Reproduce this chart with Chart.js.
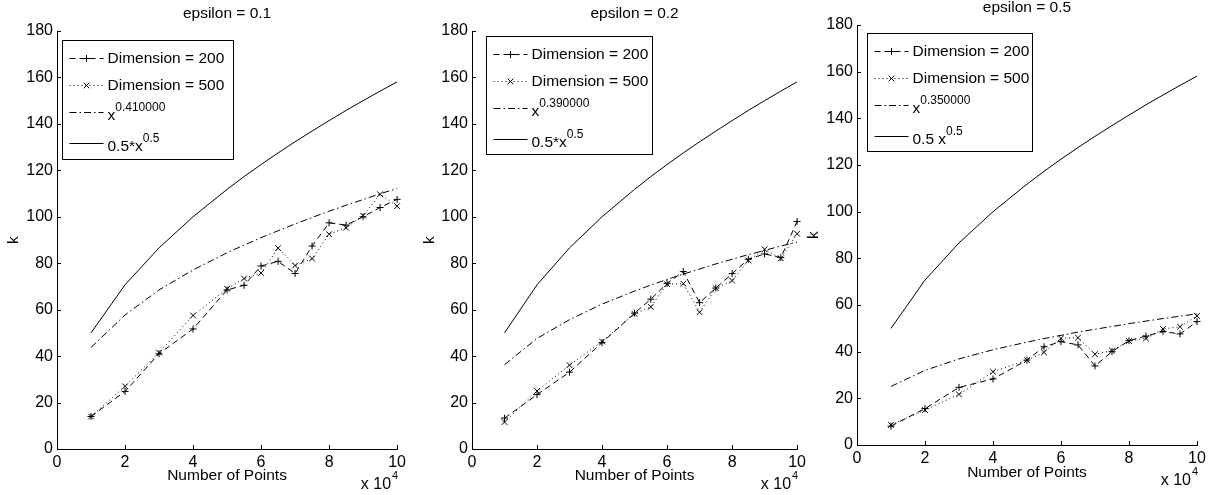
<!DOCTYPE html>
<html lang="en">
<head>
    <meta charset="UTF-8">
    <title>k vs Number of Points</title>
    <style>
        body {
            margin: 0;
            background-color: #ffffff;
            width: 1210px;
            height: 495px;
            overflow: hidden;
            position: relative;
            font-family: "Liberation Sans", Arial, sans-serif;
        }

        .panel {
            position: absolute;
            top: 0;
            width: 410px;
            height: 495px;
        }
    </style>
</head>
<body>

    <div class="panel" style="left: 0px;"><canvas id="chart1" width="410" height="495"></canvas></div>
    <div class="panel" style="left: 400px;"><canvas id="chart2" width="410" height="495"></canvas></div>
    <div class="panel" style="left: 800px;"><canvas id="chart3" width="410" height="495"></canvas></div>

    <script src="https://cdn.jsdelivr.net/npm/chart.js"></script>
    <script>
        // x values are in units of 10^4 points
        var xPoints = [1, 2, 3, 4, 5, 5.5, 6, 6.5, 7, 7.5, 8, 8.5, 9, 9.5, 10];

        var eps01Dim200 = [14, 24.8, 41, 51.7, 68.5, 70.5, 78.8, 80.8, 75.6, 87.4, 97.4, 96.4, 100, 104, 107.5];
        var eps01Dim500 = [14, 27, 41.5, 57.5, 69, 73.4, 75.8, 86.5, 79, 82, 92.5, 95.3, 100.5, 109.7, 104.6];
        var eps01Fit = [43.7, 57.7, 68.5, 77.1, 84.5, 87.8, 91.0, 94.0, 96.9, 99.7, 102.4, 105.0, 107.4, 109.9, 112.2];

        var eps02Dim200 = [13.3, 23.4, 33.1, 45.8, 58.5, 64.5, 71.3, 76.4, 63, 69.3, 75.5, 81.7, 84, 82.4, 98];
        var eps02Dim500 = [11.6, 25, 36.1, 46.3, 58.2, 61.2, 71, 71.2, 58.9, 69.2, 72.5, 81.2, 86, 82.1, 92.7];
        var eps02Fit = [36.3, 47.6, 55.7, 62.4, 68.0, 70.6, 73.0, 75.3, 77.5, 79.7, 81.7, 83.7, 85.5, 87.4, 89.1];

        var eps05Dim200 = [8.1, 15.6, 24.7, 28.3, 36.4, 42.1, 44.3, 42.9, 33.9, 40, 44.7, 46.7, 48.6, 47.6, 52.9];
        var eps05Dim500 = [8.6, 15, 21.7, 31.4, 36.4, 39.7, 45.7, 46, 38.9, 40.4, 44.6, 45.7, 49.7, 50.7, 55.3];
        var eps05Fit = [25.1, 32.0, 36.9, 40.8, 44.1, 45.6, 47.0, 48.4, 49.6, 50.8, 52.0, 53.1, 54.2, 55.2, 56.2];

        var refCurve = [50, 70.7, 86.6, 100, 111.8, 117.3, 122.5, 127.5, 132.3, 136.9, 141.4, 145.8, 150, 154.1, 158.1];

        var titles = ['epsilon = 0.1', 'epsilon = 0.2', 'epsilon = 0.5'];
        var fitExponents = ['0.410000', '0.390000', '0.350000'];
        var refLabels = ['0.5*x', '0.5*x', '0.5 x'];
        var refExponent = '0.5';
        var dimLabels = ['Dimension = 200', 'Dimension = 500'];

        var FONT = '"Liberation Sans", Arial, sans-serif';

        // layout of each panel (pixels inside its canvas)
        var panels = [
            { id: 'chart1', yWidth: 57, padTop: 31, xHeight: 46, padRight: 10, kPad: 4, xTitlePad: 10,
              legend: { dx: 5, dy: 9, w: 171, h: 119 } },
            { id: 'chart2', yWidth: 72, padTop: 31, xHeight: 46, padRight: 10, kPad: 20, xTitlePad: 10,
              legend: { dx: 14, dy: 5, w: 166, h: 118 } },
            { id: 'chart3', yWidth: 57, padTop: 25, xHeight: 50, padRight: 13, kPad: 4, xTitlePad: 13,
              legend: { dx: 10, dy: 8, w: 165, h: 118 } }
        ];

        function toXY(values) {
            return values.map(function (v, i) { return { x: xPoints[i], y: v }; });
        }

        function drawMarker(ctx, style, x, y, r) {
            ctx.beginPath();
            if (style === 'cross') {
                ctx.moveTo(x - r, y); ctx.lineTo(x + r, y);
                ctx.moveTo(x, y - r); ctx.lineTo(x, y + r);
            } else if (style === 'crossRot') {
                var d = r * 0.707;
                ctx.moveTo(x - d, y - d); ctx.lineTo(x + d, y + d);
                ctx.moveTo(x - d, y + d); ctx.lineTo(x + d, y - d);
            }
            ctx.stroke();
        }

        // title, inward ticks, legend box and the x 10^4 multiplier
        var matlabDecor = {
            id: 'matlabDecor',
            afterDraw: function (chart, args, opts) {
                var ctx = chart.ctx;
                var a = chart.chartArea;
                var xs = chart.scales.x, ys = chart.scales.y;
                ctx.save();
                ctx.strokeStyle = '#000';
                ctx.fillStyle = '#000';
                ctx.lineWidth = 1;

                // inward tick marks
                ctx.beginPath();
                xs.ticks.forEach(function (t) {
                    var px = Math.round(xs.getPixelForValue(t.value)) + 0.5;
                    ctx.moveTo(px, a.bottom);
                    ctx.lineTo(px, a.bottom - 4);
                });
                ys.ticks.forEach(function (t) {
                    var py = Math.round(ys.getPixelForValue(t.value)) + 0.5;
                    ctx.moveTo(a.left, py);
                    ctx.lineTo(a.left + 4, py);
                });
                ctx.stroke();

                // title
                ctx.font = '15.5px ' + FONT;
                ctx.textAlign = 'center';
                ctx.textBaseline = 'middle';
                ctx.fillText(opts.title, (a.left + a.right) / 2, a.top - 17);

                // x 10^4
                ctx.textAlign = 'right';
                ctx.font = '16px ' + FONT;
                ctx.fillText('x 10', a.right - 6, a.bottom + 36);
                ctx.textAlign = 'left';
                ctx.font = '11px ' + FONT;
                ctx.fillText('4', a.right - 5, a.bottom + 27);

                // legend
                var L = opts.legend;
                var bx = Math.round(a.left + L.dx) + 0.5;
                var by = Math.round(a.top + L.dy) + 0.5;
                ctx.fillStyle = '#fff';
                ctx.fillRect(bx, by, L.w, L.h);
                ctx.strokeRect(bx, by, L.w, L.h);
                ctx.fillStyle = '#000';

                var rowY = [17, 44, 71.5, 102];
                chart.data.datasets.forEach(function (ds, i) {
                    var y = Math.round(by + rowY[i]) + 0.5;
                    ctx.save();
                    ctx.lineWidth = ds.borderWidth;
                    ctx.setLineDash(ds.borderDash || []);
                    ctx.beginPath();
                    ctx.moveTo(bx + 7, y);
                    ctx.lineTo(bx + 41, y);
                    ctx.stroke();
                    ctx.setLineDash([]);
                    if (ds.pointRadius > 0) {
                        drawMarker(ctx, ds.pointStyle, bx + 24, y, ds.pointRadius);
                    }
                    ctx.restore();

                    var item = opts.items[i];
                    ctx.textAlign = 'left';
                    ctx.textBaseline = 'middle';
                    ctx.font = '15.5px ' + FONT;
                    if (item.sup) {
                        ctx.fillText(item.text, bx + 45, y + 3);
                        var w = ctx.measureText(item.text).width;
                        ctx.font = '12px ' + FONT;
                        ctx.fillText(item.sup, bx + 45 + w, y - 5);
                    } else {
                        ctx.fillText(item.text, bx + 45, y);
                    }
                });
                ctx.restore();
            }
        };

        function createChart(p, title, dim200, dim500, fit, fitExp, refLabel) {
            var ctx = document.getElementById(p.id).getContext('2d');
            return new Chart(ctx, {
                type: 'line',
                data: {
                    datasets: [{
                        label: dimLabels[0],
                        data: toXY(dim200),
                        borderColor: '#000',
                        borderWidth: 1,
                        borderDash: [6, 4],
                        pointStyle: 'cross',
                        pointRadius: 3.5,
                        pointBorderColor: '#000',
                        pointBorderWidth: 1,
                        clip: false
                    }, {
                        label: dimLabels[1],
                        data: toXY(dim500),
                        borderColor: '#000',
                        borderWidth: 1,
                        borderDash: [1, 3],
                        pointStyle: 'crossRot',
                        pointRadius: 4,
                        pointBorderColor: '#000',
                        pointBorderWidth: 1,
                        clip: false
                    }, {
                        label: 'x^' + fitExp,
                        data: toXY(fit),
                        borderColor: '#000',
                        borderWidth: 1,
                        borderDash: [7, 3, 1.5, 3],
                        pointRadius: 0
                    }, {
                        label: refLabel + '^' + refExponent,
                        data: toXY(refCurve),
                        borderColor: '#000',
                        borderWidth: 1,
                        pointRadius: 0
                    }]
                },
                options: {
                    responsive: false,
                    animation: false,
                    events: [],
                    tension: 0,
                    layout: { padding: { top: p.padTop, right: p.padRight, left: 0, bottom: 0 } },
                    scales: {
                        x: {
                            type: 'linear',
                            min: 0,
                            max: 10,
                            grid: { display: false, drawTicks: false },
                            border: { display: true, color: '#000', width: 1 },
                            ticks: { stepSize: 2, autoSkip: false, maxRotation: 0, padding: 4, color: '#000',
                                     font: { family: FONT, size: 16 } },
                            title: { display: true, text: 'Number of Points', color: '#000',
                                     font: { family: FONT, size: 15.5 }, padding: { top: 0, bottom: p.xTitlePad } },
                            afterFit: function (s) { s.height = p.xHeight; }
                        },
                        y: {
                            min: 0,
                            max: 180,
                            grid: { display: false, drawTicks: false },
                            border: { display: true, color: '#000', width: 1 },
                            ticks: { stepSize: 20, autoSkip: false, padding: 4, color: '#000',
                                     font: { family: FONT, size: 16 } },
                            title: { display: true, text: 'k', color: '#000',
                                     font: { family: FONT, size: 15.5 }, padding: { top: p.kPad, bottom: 0 } },
                            afterFit: function (s) { s.width = p.yWidth; }
                        }
                    },
                    plugins: {
                        legend: { display: false },
                        tooltip: { enabled: false },
                        matlabDecor: {
                            title: title,
                            legend: p.legend,
                            items: [
                                { text: dimLabels[0] },
                                { text: dimLabels[1] },
                                { text: 'x', sup: fitExp },
                                { text: refLabel, sup: refExponent }
                            ]
                        }
                    }
                },
                plugins: [matlabDecor]
            });
        }

        createChart(panels[0], titles[0], eps01Dim200, eps01Dim500, eps01Fit, fitExponents[0], refLabels[0]);
        createChart(panels[1], titles[1], eps02Dim200, eps02Dim500, eps02Fit, fitExponents[1], refLabels[1]);
        createChart(panels[2], titles[2], eps05Dim200, eps05Dim500, eps05Fit, fitExponents[2], refLabels[2]);
    </script>
</body>
</html>
